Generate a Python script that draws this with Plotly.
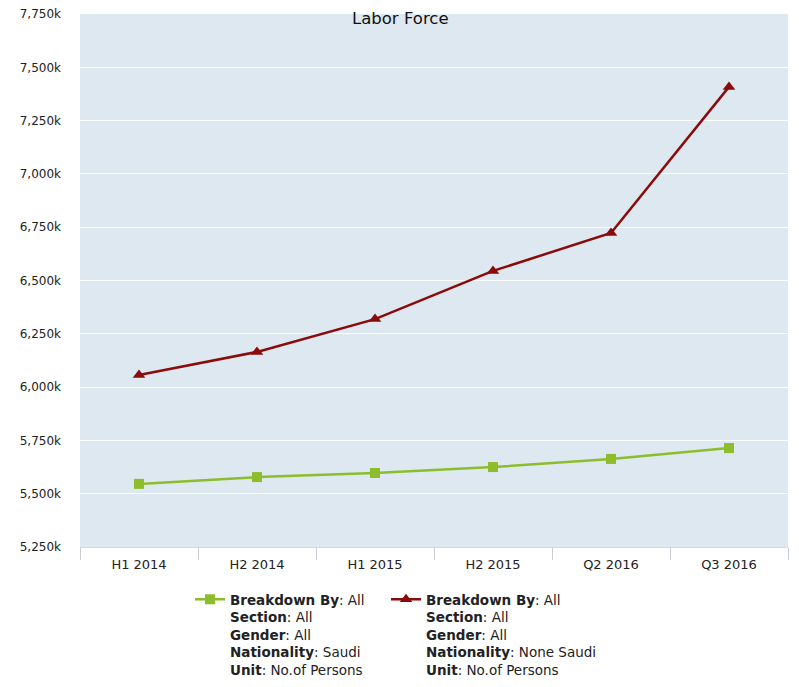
import plotly.graph_objects as go

categories = ["H1 2014", "H2 2014", "H1 2015", "H2 2015", "Q2 2016", "Q3 2016"]
saudi = [5546, 5578, 5597, 5625, 5663, 5714]
non_saudi = [6057, 6165, 6319, 6545, 6723, 7408]
y_ticks = [5250, 5500, 5750, 6000, 6250, 6500, 6750, 7000, 7250, 7500, 7750]
y_tick_text = [f"{v:,}k" for v in y_ticks]

saudi_name = ("<b>Breakdown By</b>: All<br><b>Section</b>: All<br><b>Gender</b>: All"
              "<br><b>Nationality</b>: Saudi<br><b>Unit</b>: No.of Persons")
non_saudi_name = ("<b>Breakdown By</b>: All<br><b>Section</b>: All<br><b>Gender</b>: All"
                  "<br><b>Nationality</b>: None Saudi<br><b>Unit</b>: No.of Persons")

FONT = "DejaVu Sans"

fig = go.Figure()
fig.add_trace(go.Scatter(
    x=categories, y=saudi, mode="lines+markers", name=saudi_name,
    line=dict(color="#8dbd2a", width=2.5),
    marker=dict(symbol="square", size=10, color="#8dbd2a"),
    legendwidth=151,
))
fig.add_trace(go.Scatter(
    x=categories, y=non_saudi, mode="lines+markers", name=non_saudi_name,
    line=dict(color="#8b0a0a", width=2.5),
    marker=dict(symbol="triangle-up", size=11, color="#8b0a0a"),
))

# page body has an 8px margin, so the figure is drawn 8px smaller and offset
fig.update_layout(
    width=791, height=679,
    margin=dict(l=72, r=11, t=6, b=140, autoexpand=False),
    paper_bgcolor="white",
    plot_bgcolor="#dde8f1",
    font=dict(family=FONT, size=12, color="#222222"),
    showlegend=True,
    legend=dict(
        orientation="h", x=(190 - 80) / 708, xanchor="left",
        y=(547 - 584) / 533, yanchor="top",
        valign="top",
        font=dict(family=FONT, size=13.5, color="#222222"),
        bgcolor="rgba(0,0,0,0)", itemwidth=30,
    ),
    annotations=[dict(
        text="Labor Force", xref="paper", yref="paper",
        x=(400 - 80) / 708, y=1, xanchor="center", yanchor="middle", yshift=-4.5,
        showarrow=False, font=dict(family=FONT, size=16.5, color="#111111"),
    )],
)

fig.update_xaxes(
    type="category", range=[-0.5, 5.5], automargin=False,
    showgrid=False, zeroline=False,
    showline=True, linecolor="#d4dbe2", linewidth=1,
    ticks="outside", tickson="boundaries", ticklen=12, tickcolor="#c8ced4",
    ticklabelstandoff=5,
    tickfont=dict(family=FONT, size=13, color="#222222"),
)
fig.update_yaxes(
    range=[5250, 7750], tickvals=y_ticks, ticktext=y_tick_text, automargin=False,
    showgrid=True, gridcolor="white", gridwidth=1.2, zeroline=False,
    showline=False, ticks="", ticklabelstandoff=18, ticklabeloverflow="allow",
    tickfont=dict(family=FONT, size=12, color="#222222"),
)

fig.write_html("out.html")
